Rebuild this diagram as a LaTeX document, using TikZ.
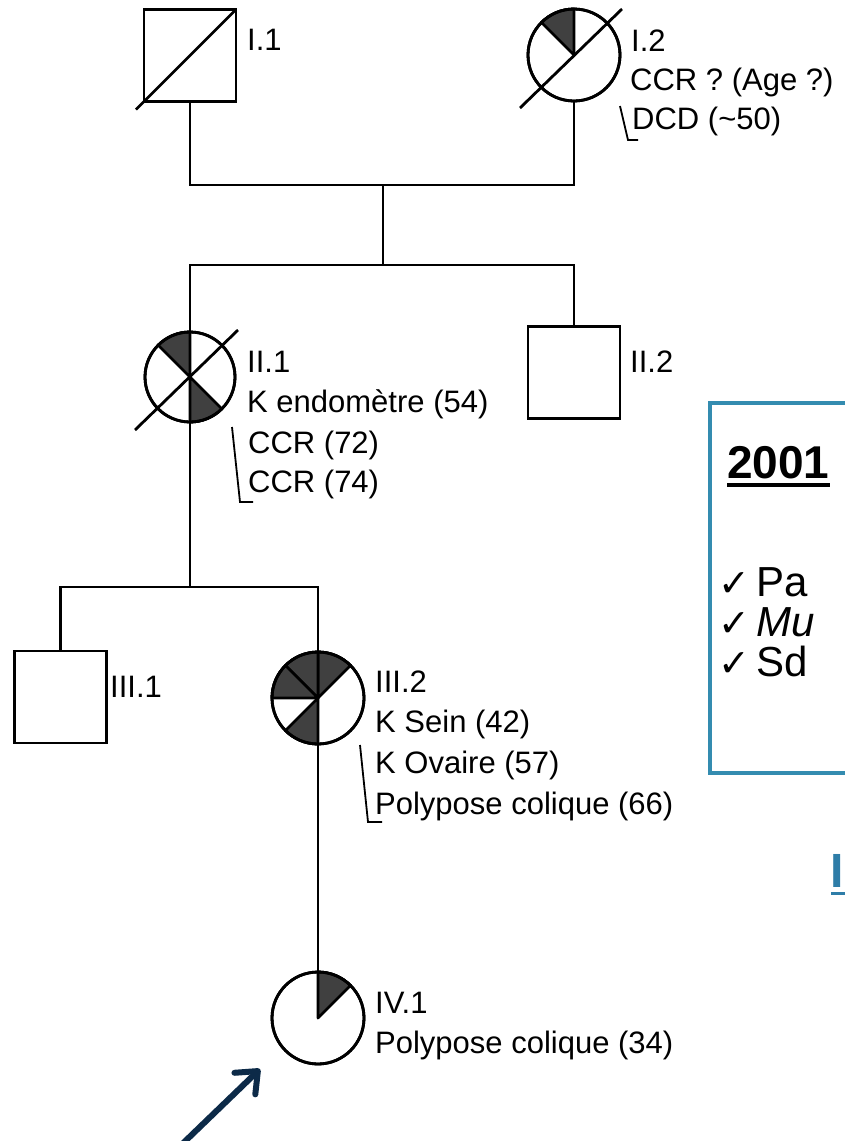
\documentclass[tikz,border=0pt]{standalone}
\usepackage{fontspec}
\setmainfont{Liberation Sans}
\newfontfamily\symfont{DejaVu Sans}
\usetikzlibrary{arrows.meta,calc}
\definecolor{sectorgray}{RGB}{64,64,64}
\definecolor{boxblue}{RGB}{52,140,176}
\definecolor{arrownavy}{RGB}{12,42,72}
\definecolor{linkblue}{RGB}{46,125,168}
\newcommand\pedsector[4]{\filldraw[ped, fill=sectorgray, line join=round] (#1.center) -- (#1.#2) arc[start angle=#2, end angle=#3, radius=#4] -- cycle;}
\begin{document}
\begin{tikzpicture}[x=1pt,y=-1pt,
  ped/.style={line width=2.8pt, draw=black},
  male/.style={ped, rectangle, minimum size=92pt, inner sep=0pt, outer sep=0pt, fill=white},
  female/.style={ped, circle, minimum size=92pt, inner sep=0pt, outer sep=0pt, fill=white},
  lab/.style={anchor=base west, inner sep=0pt, font=\fontsize{31}{36}\selectfont},
  bracket/.style={line width=1.8pt, line join=miter},
  deceased/.style={line width=2.8pt},
  checkmark/.style={anchor=base west, inner sep=0pt, font=\symfont\fontsize{38}{42}\selectfont}
]
\useasboundingbox[fill=white] (0,0) rectangle (845,1141);

% junction points
\coordinate (m1) at (383,185);
\coordinate (s1) at (383,265);
\coordinate (s2) at (190,587);

\node[male] (I1) at (190,55.5) {};
\node[female] (I2) at (574,55) {};
\node[female, minimum size=90pt] (II1) at (190,377) {};
\node[male] (II2) at (574,372.5) {};
\node[male] (III1) at (60.5,697) {};
\node[female] (III2) at (318,698) {};
\node[female] (IV1) at (318,1018) {};

\draw[ped] (I1.south) |- (m1) -| (I2.south);
\draw[ped] (m1) -- (s1);
\draw[ped] (II1.north) |- (s1) -| (II2.north);
\draw[ped] (II1.south) -- (s2);
\draw[ped] (III1.north) |- (s2) -| (III2.north);
\draw[ped] (III2.south) -- (IV1.north);

% I.1 deceased male
\draw[deceased] (I1.north east) -- ($(I1.south west)+(-8,8)$);

% I.2
\pedsector{I2}{90}{135}{46pt}
\draw[ped] (I2) circle[radius=46pt];
\draw[deceased] ($(I2.center)+(-54,53)$) -- ($(I2.center)+(48,-46)$);

% II.1
\pedsector{II1}{90}{135}{45pt}
\pedsector{II1}{270}{315}{45pt}
\draw[ped] (II1) circle[radius=45pt];
\draw[deceased] ($(II1.center)+(-55,53)$) -- ($(II1.center)+(48,-47)$);

% III.2
\pedsector{III2}{45}{90}{46pt}
\pedsector{III2}{90}{135}{46pt}
\pedsector{III2}{135}{180}{46pt}
\pedsector{III2}{225}{270}{46pt}
\draw[ped] (III2.center) -- (III2.south);
\draw[ped] (III2) circle[radius=46pt];

% IV.1
\pedsector{IV1}{45}{90}{46pt}
\draw[ped] (IV1) circle[radius=46pt];

% labels
\node[lab] (tI1) at (247,50) {I.1};
\node[lab] (tI2a) at (631,51) {I.2};
\node[lab] (tI2b) at (630,90) {CCR ? (Age ?)};
\node[lab] (tI2c) at (632,129) {DCD (\textasciitilde50)};
\draw[bracket] (620,106) -- (628,140) -- (638,140);

\node[lab] (tII1a) at (247,372) {II.1};
\node[lab] (tII1b) at (247,412) {K endomètre (54)};
\node[lab] (tII1c) at (248,453) {CCR (72)};
\node[lab] (tII1d) at (248,492) {CCR (74)};
\draw[bracket] (232,427) -- (240,502) -- (253,502);

\node[lab] (tII2) at (630,372) {II.2};
\node[lab] (tIII1) at (110,697) {III.1};

\node[lab] (tIII2a) at (375,692) {III.2};
\node[lab] (tIII2b) at (375,732) {K Sein (42)};
\node[lab] (tIII2c) at (375,773) {K Ovaire (57)};
\node[lab] (tIII2d) at (375,814) {Polypose colique (66)};
\draw[bracket] (360,745) -- (368,822) -- (382,822);

\node[lab] (tIV1a) at (375,1013) {IV.1};
\node[lab] (tIV1b) at (375,1053) {Polypose colique (34)};

% arrow to proband
\coordinate (arrowtail) at (176,1150);
\coordinate (arrowtip) at (260,1069);
\draw[line width=6pt, arrownavy, -{Straight Barb[length=18pt,width=30pt,round]}] (arrowtail) -- (arrowtip);

% side box
\draw[boxblue, line width=4pt] (710,403) rectangle (900,773);
\node[anchor=base west, inner sep=0pt, font=\fontsize{46}{55}\selectfont\bfseries] (y2001) at (727,478) {2001};
\draw[line width=3.5pt] ([yshift=-7pt]y2001.base west) -- ([yshift=-7pt]y2001.base east);
\node[checkmark] (c1) at (718,596) {✓};
\node[checkmark] (c2) at (718,636) {✓};
\node[checkmark] (c3) at (718,676) {✓};
\node[anchor=base west, inner sep=0pt, font=\fontsize{42}{50}\selectfont] (p1) at (756,596) {Pa};
\node[anchor=base west, inner sep=0pt, font=\fontsize{42}{50}\selectfont\itshape] (p2) at (756,636) {Mu};
\node[anchor=base west, inner sep=0pt, font=\fontsize{42}{50}\selectfont] (p3) at (756,676) {Sd};

\node[anchor=base west, inner sep=0pt, text=linkblue, font=\fontsize{48}{58}\selectfont\bfseries] (ilink) at (830,887) {I};
\draw[linkblue, line width=3pt] (831,893.5) -- (850,893.5);
\end{tikzpicture}
\end{document}
